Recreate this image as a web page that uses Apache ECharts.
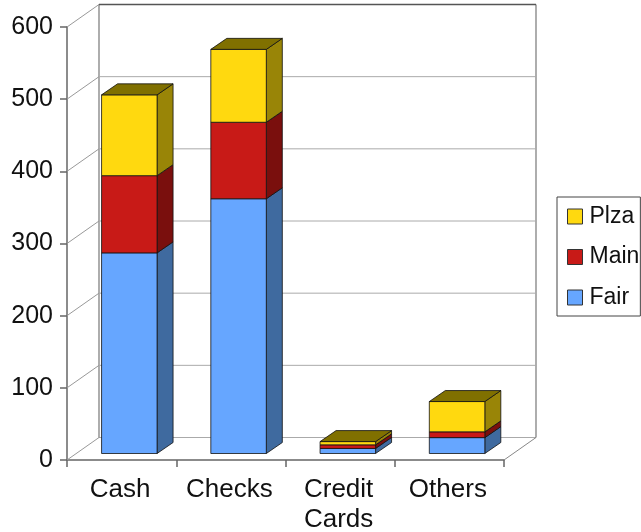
<!DOCTYPE html>
<html>
<head>
<meta charset="utf-8">
<style>html,body{margin:0;padding:0;background:#fff}#c{width:641px;height:532px}</style>
<script src="https://cdn.jsdelivr.net/npm/echarts@6/dist/echarts.min.js"></script>
</head>
<body>
<div id="c"></div>
<script>
const categories = ['Cash', 'Checks', 'Credit\nCards', 'Others'];
const fair = [278, 353, 7, 22];
const main = [107, 106, 5, 8];
const plza = [112, 101, 4.5, 42];
const yTicks = [0, 100, 200, 300, 400, 500, 600];
const seriesNames = ['Fair', 'Main', 'Plza'];
const legendOrder = ['Plza', 'Main', 'Fair'];

const faceColors = ['#66A6FF', '#C81A17', '#FFD90F'];
const sideColors = ['#3F6A9F', '#7A0F0D', '#998507'];
const topColor = '#807000';
const DX = 32, DY = -22.5;          // wall depth in pixels
const barFX = 7.7, barFY = -6.5, barDX = 16, barDY = -11, barWidthRatio = 0.508;

const stacks = [fair, main, plza];
function layer(k) {
  return categories.map((c, i) => {
    let base = 0;
    for (let j = 0; j < k; j++) base += stacks[j][i];
    return [i, base, base + stacks[k][i]];
  });
}

function renderBar(k) {
  return function (params, api) {
    const i = api.value(0);
    const b = api.coord([i, api.value(1)]);
    const t = api.coord([i, api.value(2)]);
    const w = api.size([1, 0])[0] * barWidthRatio;
    const x0 = b[0] - w / 2 + barFX, x1 = b[0] + w / 2 + barFX;
    const y0 = b[1] + barFY, y1 = t[1] + barFY;
    const dx = barDX, dy = barDY;
    const line = { stroke: '#111', lineWidth: 0.8, lineJoin: 'round' };
    const poly = (pts, fill) => ({
      type: 'polygon', shape: { points: pts },
      style: Object.assign({ fill }, line)
    });
    const children = [
      poly([[x1, y0], [x1 + dx, y0 + dy], [x1 + dx, y1 + dy], [x1, y1]], sideColors[k]),
      poly([[x0, y0], [x1, y0], [x1, y1], [x0, y1]], faceColors[k])
    ];
    if (k === stacks.length - 1) {
      children.push(poly([[x0, y1], [x1, y1], [x1 + dx, y1 + dy], [x0 + dx, y1 + dy]], topColor));
    }
    return { type: 'group', children };
  };
}

function renderWall(params, api) {
  const v = api.value(1);
  const top = yTicks[yTicks.length - 1];
  const band = api.size([1, 0])[0];
  const last = categories.length - 1;
  const lx = api.coord([0, v])[0] - band / 2;
  const rx = api.coord([last, v])[0] + band / 2;
  const y = api.coord([0, v])[1];
  const yTop = api.coord([0, top])[1];
  const isTop = v === top;
  const isBottom = v === yTicks[0];
  const children = [
    { type: 'line', shape: { x1: lx, y1: y, x2: lx + DX, y2: y + DY },
      style: { stroke: '#999', lineWidth: 1 } },
    { type: 'line', shape: { x1: lx + DX, y1: y + DY, x2: rx + DX, y2: y + DY },
      style: { stroke: isTop ? '#555' : '#aaa', lineWidth: isTop ? 1.5 : 1 } }
  ];
  if (isBottom) {
    children.push(
      { type: 'line', shape: { x1: rx, y1: y, x2: rx + DX, y2: y + DY },
        style: { stroke: '#888', lineWidth: 1 } },
      { type: 'line', shape: { x1: lx + DX, y1: y + DY, x2: lx + DX, y2: yTop + DY },
        style: { stroke: '#777', lineWidth: 1.2 } },
      { type: 'line', shape: { x1: rx + DX, y1: y + DY, x2: rx + DX, y2: yTop + DY },
        style: { stroke: '#777', lineWidth: 1.2 } }
    );
  }
  return { type: 'group', children };
}

const font = '"Liberation Sans", Arial, sans-serif';
const axisLine = { show: true, lineStyle: { color: '#666', width: 1.5 } };
const axisTick = { show: true, length: 7, lineStyle: { color: '#666', width: 1.5 } };

const series = [{
  type: 'custom', name: 'wall', silent: true,
  data: yTicks.map(v => [0, v]),
  encode: { x: 0, y: 1 },
  renderItem: renderWall
}];
seriesNames.forEach((n, k) => series.push({
  type: 'custom', name: n,
  data: layer(k),
  encode: { x: 0, y: [1, 2] },
  itemStyle: { color: faceColors[k] },
  renderItem: renderBar(k)
}));

const chart = echarts.init(document.getElementById('c'), null, { renderer: 'canvas' });
chart.setOption({
  animation: false,
  backgroundColor: '#fff',
  grid: { left: 67, right: 137, top: 27, bottom: 72, containLabel: false, outerBoundsMode: 'none' },
  xAxis: {
    type: 'category', data: categories,
    axisLine: Object.assign({ onZero: false }, axisLine), axisTick,
    splitLine: { show: false },
    axisLabel: { fontFamily: font, fontSize: 26, color: '#111', margin: 15, lineHeight: 30, interval: 0, padding: [0, 3, 0, 0] }
  },
  yAxis: {
    type: 'value', min: 0, max: 600, interval: 100,
    axisLine, axisTick, splitLine: { show: false },
    axisLabel: { fontFamily: font, fontSize: 25, color: '#111', margin: 14 }
  },
  legend: {
    show: true, orient: 'vertical', left: 557, top: 197,
    data: legendOrder.map(name => ({ name, icon: 'rect' })),
    selectedMode: false,
    itemWidth: 15, itemHeight: 15, itemGap: 15.5, padding: [7, 1, 6, 10],
    backgroundColor: '#fff', borderColor: '#444', borderWidth: 1,
    itemStyle: { borderColor: '#333', borderWidth: 1 },
    textStyle: { fontFamily: font, fontSize: 23, color: '#111', padding: [2, 0, 0, 2], lineHeight: 23 }
  },
  series
});
</script>
</body>
</html>
